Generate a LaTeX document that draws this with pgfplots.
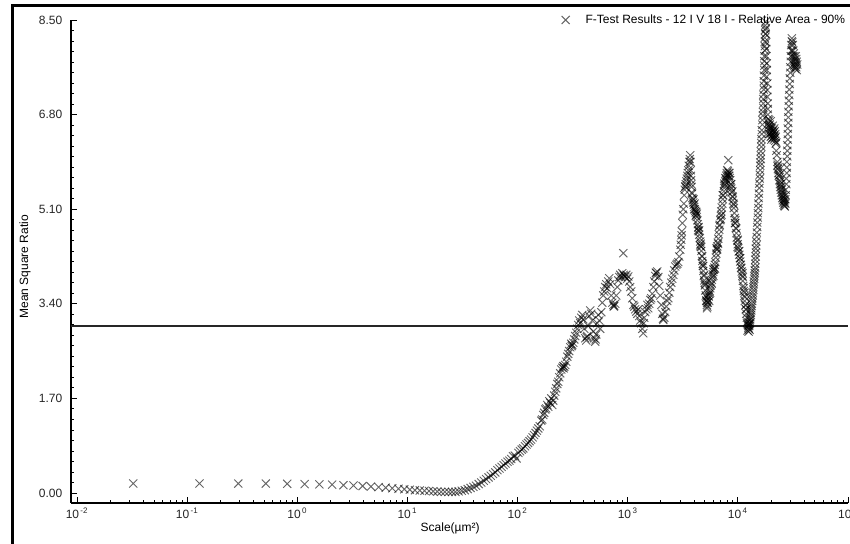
\documentclass[border=0pt]{standalone}
\usepackage{pgfplots}
\pgfplotsset{compat=1.18}
\usepackage{pgfplotstable}
\usepackage{fontspec}
\setmainfont{Liberation Sans}

% F-test mean square ratio against scale (area, square micrometres)
\pgfplotstableread[row sep=\\]{
x y \\
0.0324 0.17 \\ 0.1296 0.17 \\ 0.2916 0.17 \\ 0.5184 0.17 \\ 0.81 0.165 \\
1.166 0.16 \\ 1.588 0.155 \\ 2.074 0.15 \\ 2.624 0.14 \\ 3.24 0.135 \\
3.92 0.125 \\ 4.666 0.115 \\ 5.476 0.105 \\ 6.35 0.095 \\ 7.29 0.085 \\
8.294 0.075 \\ 9.364 0.068 \\ 10.50 0.06 \\ 11.70 0.05 \\ 12.96 0.045 \\
14.29 0.04 \\ 15.68 0.035 \\ 17.14 0.03 \\ 18.66 0.025 \\ 20.25 0.02 \\
21.90 0.02 \\ 23.62 0.02 \\ 25.40 0.02 \\ 27.25 0.02 \\ 29.16 0.03 \\
31.14 0.04 \\ 33.18 0.05 \\ 35.28 0.07 \\ 37.45 0.09 \\ 39.69 0.11 \\
41.99 0.13 \\ 44.36 0.16 \\ 46.79 0.19 \\ 49.28 0.22 \\ 51.84 0.25 \\
54.46 0.28 \\ 57.15 0.31 \\ 59.91 0.34 \\ 62.73 0.37 \\ 65.61 0.41 \\
68.56 0.44 \\ 71.57 0.47 \\ 74.65 0.50 \\ 77.79 0.53 \\ 81.00 0.56 \\
84.27 0.58 \\ 87.61 0.61 \\ 91.01 0.66 \\ 94.48 0.67 \\ 98.01 0.62 \\
101.6 0.72 \\ 105.3 0.75 \\ 109.0 0.78 \\ 112.8 0.80 \\ 116.6 0.84 \\
120.6 0.87 \\ 124.5 0.90 \\ 128.6 0.93 \\ 132.7 0.96 \\ 136.9 1.00 \\
141.1 1.04 \\ 145.4 1.08 \\ 149.8 1.12 \\ 154.3 1.16 \\ 158.8 1.20 \\
164.0 1.30 \\ 167.5 1.32 \\ 171.1 1.40 \\ 174.6 1.44 \\ 178.1 1.50 \\
182.0 1.52 \\ 186.0 1.58 \\ 189.9 1.55 \\ 193.9 1.65 \\ 197.8 1.62 \\
202.2 1.70 \\ 206.5 1.58 \\ 210.9 1.66 \\ 215.2 1.75 \\ 219.6 1.82 \\
224.4 1.88 \\ 229.3 1.96 \\ 234.1 2.00 \\ 239.0 2.08 \\ 243.8 2.15 \\
249.2 2.22 \\ 254.5 2.25 \\ 259.9 2.28 \\ 262.0 2.24 \\ 265.2 2.27 \\
270.6 2.30 \\ 276.6 2.36 \\ 282.5 2.45 \\ 288.5 2.50 \\ 294.5 2.55 \\
300.5 2.62 \\ 307.1 2.68 \\ 310.0 2.64 \\ 313.7 2.66 \\ 320.4 2.70 \\
327.0 2.76 \\ 333.6 2.82 \\ 341.0 2.88 \\ 348.3 2.95 \\ 355.7 3.02 \\
363.0 3.10 \\ 370.4 3.05 \\ 378.6 3.15 \\ 386.7 3.20 \\ 394.9 3.12 \\
403.0 2.95 \\ 411.2 2.78 \\ 420.3 2.74 \\ 425.0 2.80 \\ 429.4 2.82 \\
438.4 3.00 \\ 447.5 3.18 \\ 456.6 3.28 \\ 466.7 3.22 \\ 476.7 3.10 \\
486.8 2.90 \\ 496.8 2.78 \\ 506.9 2.72 \\ 512.0 2.76 \\ 518.1 2.85 \\
529.3 3.05 \\ 540.5 3.20 \\ 551.7 3.10 \\ 562.9 2.95 \\ 575.3 3.25 \\
587.7 3.42 \\ 600.1 3.55 \\ 612.5 3.62 \\ 624.9 3.70 \\ 638.7 3.75 \\
652.5 3.68 \\ 666.2 3.80 \\ 680.0 3.86 \\ 693.8 3.75 \\ 709.1 3.55 \\
724.4 3.42 \\ 739.7 3.38 \\ 747.0 3.35 \\ 755.0 3.36 \\ 770.3 3.40 \\
787.3 3.55 \\ 804.2 3.70 \\ 821.2 3.82 \\ 838.2 3.88 \\ 855.2 3.92 \\
874.1 3.88 \\ 892.9 3.95 \\ 911.8 4.31 \\ 920.0 3.92 \\ 930.6 3.90 \\
949.5 3.88 \\ 970.4 3.92 \\ 991.3 3.85 \\ 1012 3.89 \\ 1033 3.80 \\
1054 3.70 \\ 1077 3.62 \\ 1100 3.50 \\ 1124 3.38 \\ 1147 3.35 \\
1170 3.30 \\ 1196 3.26 \\ 1222 3.22 \\ 1247 3.30 \\ 1273 3.18 \\
1299 3.10 \\ 1328 3.05 \\ 1357 2.95 \\ 1385 2.87 \\ 1400 3.05 \\
1414 3.15 \\ 1443 3.25 \\ 1475 3.30 \\ 1507 3.38 \\ 1538 3.32 \\
1570 3.40 \\ 1602 3.47 \\ 1637 3.50 \\ 1672 3.58 \\ 1708 3.70 \\
1743 3.80 \\ 1778 3.90 \\ 1800 3.96 \\ 1817 3.95 \\ 1856 3.98 \\
1896 3.88 \\ 1935 3.72 \\ 1974 3.55 \\ 2018 3.38 \\ 2061 3.22 \\
2090 3.13 \\ 2105 3.11 \\ 2148 3.15 \\ 2192 3.25 \\ 2240 3.35 \\
2289 3.45 \\ 2337 3.50 \\ 2385 3.60 \\ 2433 3.70 \\ 2487 3.78 \\
2540 3.85 \\ 2594 3.92 \\ 2647 4.00 \\ 2701 4.07 \\ 2761 4.10 \\
2821 4.12 \\ 2880 4.15 \\ 2940 4.25 \\ 3000 4.37 \\ 3033 4.46 \\
3066 4.55 \\ 3082 4.63 \\ 3099 4.70 \\ 3132 4.85 \\ 3165 5.00 \\
3198 5.10 \\ 3231 5.20 \\ 3264 5.35 \\ 3297 5.45 \\ 3330 5.51 \\
3345 5.50 \\ 3367 5.55 \\ 3404 5.60 \\ 3440 5.65 \\ 3477 5.70 \\
3514 5.75 \\ 3550 5.80 \\ 3587 5.88 \\ 3624 5.95 \\ 3660 6.00 \\
3697 6.07 \\
3713 5.95 \\ 3738 5.80 \\ 3750 5.70 \\ 3762 5.62 \\ 3778 5.55 \\
3800 5.50 \\ 3819 5.40 \\ 3850 5.38 \\ 3860 5.30 \\ 3901 5.26 \\
3941 5.22 \\ 3950 5.28 \\ 3982 5.18 \\ 4000 5.10 \\ 4023 5.14 \\
4050 5.20 \\ 4063 5.10 \\ 4104 5.07 \\ 4149 5.04 \\ 4150 4.98 \\
4194 5.00 \\ 4200 5.05 \\ 4240 4.96 \\ 4250 5.02 \\ 4285 4.90 \\
4330 4.83 \\ 4350 4.72 \\ 4375 4.77 \\ 4400 4.78 \\ 4420 4.70 \\
4450 4.72 \\ 4466 4.64 \\ 4511 4.58 \\ 4550 4.45 \\ 4556 4.52 \\
4600 4.48 \\ 4606 4.43 \\ 4650 4.42 \\ 4656 4.35 \\ 4707 4.26 \\
4750 4.25 \\ 4757 4.17 \\ 4800 4.12 \\ 4807 4.08 \\ 4850 4.08 \\
4857 3.99 \\ 4907 3.90 \\ 4950 3.92 \\ 4958 3.82 \\ 5000 3.78 \\
5008 3.73 \\ 5050 3.75 \\ 5058 3.64 \\ 5114 3.55 \\ 5150 3.52 \\
5170 3.46 \\ 5200 3.45 \\ 5226 3.38 \\ 5250 3.32 \\ 5260 3.42 \\
5282 3.35 \\
5337 3.42 \\ 5393 3.48 \\ 5400 3.55 \\ 5449 3.53 \\ 5500 3.45 \\
5505 3.58 \\ 5560 3.63 \\ 5600 3.60 \\ 5616 3.68 \\ 5678 3.73 \\
5740 3.78 \\ 5800 3.76 \\ 5802 3.83 \\ 5864 3.88 \\ 5926 3.93 \\
5987 3.97 \\ 6000 3.90 \\ 6000 4.02 \\ 6049 4.01 \\ 6111 4.05 \\
6173 4.10 \\ 6200 4.03 \\ 6235 4.15 \\ 6304 4.23 \\ 6372 4.30 \\
6400 4.40 \\ 6441 4.37 \\ 6500 4.38 \\ 6510 4.43 \\ 6579 4.50 \\
6600 4.48 \\ 6647 4.57 \\ 6716 4.65 \\ 6785 4.73 \\ 6800 4.80 \\
6853 4.82 \\ 6922 4.90 \\ 6998 4.98 \\ 7000 4.92 \\ 7074 5.06 \\
7100 5.00 \\ 7151 5.13 \\ 7227 5.20 \\ 7300 5.35 \\ 7303 5.28 \\
7380 5.35 \\ 7456 5.42 \\ 7500 5.52 \\ 7532 5.48 \\ 7550 5.56 \\
7609 5.54 \\ 7685 5.60 \\ 7700 5.66 \\ 7770 5.65 \\ 7800 5.62 \\
7854 5.70 \\ 7939 5.75 \\ 8000 5.72 \\ 8024 5.80 \\ 8109 5.78 \\
8193 5.98 \\ 8244 5.70 \\
8278 5.75 \\ 8362 5.70 \\ 8400 5.75 \\ 8447 5.66 \\ 8532 5.62 \\
8600 5.50 \\ 8626 5.55 \\ 8700 5.55 \\ 8720 5.47 \\ 8814 5.40 \\
8900 5.42 \\ 8908 5.33 \\ 9000 5.32 \\ 9002 5.26 \\ 9096 5.20 \\
9190 5.12 \\ 9200 5.18 \\ 9284 5.03 \\ 9378 4.94 \\ 9400 4.85 \\
9472 4.85 \\ 9500 4.90 \\ 9576 4.76 \\ 9680 4.67 \\ 9700 4.75 \\
9785 4.59 \\ 9889 4.53 \\ 9950 4.42 \\ 9993 4.47 \\ 10000 4.55 \\
10097 4.40 \\ 10202 4.34 \\ 10300 4.35 \\ 10306 4.28 \\ 10411 4.22 \\
10500 4.22 \\ 10515 4.16 \\ 10631 4.10 \\ 10700 4.05 \\ 10747 4.04 \\
10863 3.98 \\ 10979 3.90 \\ 11000 3.95 \\ 11095 3.81 \\ 11100 3.88 \\
11211 3.72 \\ 11300 3.68 \\ 11327 3.63 \\ 11443 3.54 \\ 11500 3.60 \\
11559 3.45 \\ 11600 3.52 \\ 11675 3.37 \\ 11800 3.38 \\ 11804 3.30 \\
11900 3.30 \\ 11932 3.22 \\ 12061 3.15 \\ 12100 3.05 \\ 12190 3.08 \\
12250 2.92 \\ 12318 3.02 \\ 12400 3.00 \\ 12447 2.97 \\ 12500 2.90 \\
12575 2.95 \\ 12650 3.02 \\ 12800 2.93 \\ 12900 3.05 \\
12704 3.00 \\ 12704 3.04 \\ 12833 3.06 \\ 12833 3.10 \\ 12961 3.12 \\
12961 3.16 \\ 13104 3.20 \\ 13104 3.24 \\ 13247 3.28 \\ 13247 3.32 \\
13390 3.36 \\ 13390 3.40 \\ 13533 3.45 \\ 13533 3.50 \\ 13676 3.55 \\
13676 3.60 \\ 13818 3.65 \\ 13818 3.70 \\ 13961 3.75 \\ 13961 3.80 \\
14104 3.85 \\ 14104 3.90 \\ 14247 3.95 \\ 14247 4.00 \\ 14390 4.05 \\
14390 4.12 \\ 14390 4.19 \\ 14549 4.25 \\ 14549 4.32 \\ 14549 4.39 \\
14707 4.45 \\ 14707 4.52 \\ 14866 4.60 \\ 14866 4.68 \\ 15024 4.78 \\
15024 4.86 \\ 15183 4.95 \\ 15183 5.03 \\ 15341 5.12 \\ 15341 5.20 \\
15499 5.30 \\ 15499 5.38 \\ 15658 5.48 \\ 15658 5.56 \\ 15816 5.65 \\
15816 5.72 \\ 15975 5.80 \\ 15975 5.88 \\ 15975 5.94 \\ 16151 6.00 \\
16151 6.07 \\ 16151 6.14 \\ 16327 6.22 \\ 16327 6.29 \\ 16327 6.36 \\
16503 6.45 \\ 16503 6.52 \\ 16679 6.62 \\ 16679 6.70 \\ 16856 6.78 \\
16856 6.85 \\ 17032 6.92 \\ 17032 7.00 \\ 17032 7.08 \\ 17032 7.16 \\
17208 7.25 \\ 17208 7.32 \\ 17208 7.40 \\ 17208 7.50 \\ 17384 7.60 \\
17384 7.68 \\ 17384 7.76 \\ 17384 7.85 \\ 17560 7.95 \\ 17560 8.03 \\
17560 8.11 \\ 17560 8.18 \\ 17736 8.25 \\ 17736 8.32 \\ 17736 8.40 \\
17834 8.47 \\
17931 8.35 \\ 17931 8.25 \\ 18127 8.10 \\ 18127 7.98 \\ 18127 7.85 \\
18322 7.72 \\ 18322 7.60 \\ 18322 7.48 \\ 18517 7.36 \\ 18517 7.24 \\
18517 7.12 \\ 18713 7.00 \\ 18713 6.90 \\ 18713 6.80 \\ 18908 6.72 \\
18908 6.65 \\ 19104 6.60 \\ 19104 6.45 \\ 19299 6.55 \\ 19299 6.70 \\
19494 6.50 \\ 19494 6.62 \\ 19690 6.45 \\ 19690 6.58 \\ 19907 6.40 \\
19907 6.55 \\ 19907 6.68 \\ 20124 6.48 \\ 20124 6.35 \\ 20341 6.55 \\
20341 6.42 \\ 20558 6.50 \\ 20558 6.38 \\ 20775 6.45 \\ 20775 6.60 \\
20992 6.40 \\ 20992 6.52 \\ 21209 6.48 \\ 21209 6.35 \\ 21426 6.42 \\
21426 6.55 \\ 21643 6.38 \\ 21643 6.50 \\ 21860 6.45 \\ 21860 6.33 \\
22101 6.40 \\ 22101 6.28 \\ 22342 6.30 \\ 22342 6.15 \\ 22583 6.07 \\
22824 5.95 \\ 22824 5.88 \\ 23065 5.90 \\ 23065 5.82 \\ 23305 5.85 \\
23305 5.75 \\ 23546 5.80 \\ 23546 5.70 \\ 23787 5.72 \\ 23787 5.62 \\
24028 5.68 \\ 24028 5.55 \\ 24269 5.60 \\ 24269 5.50 \\ 24537 5.55 \\
24537 5.45 \\ 24804 5.50 \\ 24804 5.40 \\ 25072 5.45 \\ 25072 5.35 \\
25339 5.40 \\ 25339 5.30 \\ 25607 5.35 \\ 25607 5.26 \\ 25874 5.32 \\
25874 5.22 \\ 26142 5.28 \\ 26142 5.18 \\ 26409 5.25 \\ 26409 5.16 \\
26677 5.22 \\ 26677 5.15 \\ 26944 5.20 \\ 26944 5.28 \\ 27241 5.35 \\
27241 5.45 \\ 27538 5.55 \\ 27538 5.65 \\ 27835 5.75 \\ 27835 5.85 \\
27835 5.95 \\ 28132 6.05 \\ 28132 6.15 \\ 28132 6.25 \\ 28429 6.35 \\
28429 6.45 \\ 28429 6.55 \\ 28726 6.65 \\ 28726 6.75 \\ 28726 6.85 \\
29023 6.95 \\ 29023 7.05 \\ 29320 7.15 \\ 29320 7.25 \\ 29617 7.35 \\
29617 7.45 \\ 29914 7.55 \\ 29914 7.65 \\ 30244 7.75 \\ 30244 7.85 \\
30573 7.95 \\ 30573 8.05 \\ 30903 8.12 \\ 30903 8.17 \\ 31232 8.10 \\
31232 7.95 \\ 31562 8.05 \\ 31562 7.85 \\ 31891 7.95 \\ 31891 7.75 \\
32221 7.90 \\ 32221 7.70 \\ 32551 7.85 \\ 32551 7.68 \\ 32880 7.80 \\
32880 7.65 \\ 33210 7.75 \\ 33210 7.62 \\ 33576 7.85 \\ 33576 7.70 \\
33942 7.80 \\ 33942 7.65 \\ 34308 7.75 \\ 34308 7.60 \\ 34674 7.70 \\
}\fratio

\begin{document}
\begin{tikzpicture}[x=0.75pt,y=0.75pt,font=\fontsize{9}{11}\selectfont]
\path[use as bounding box] (0,0) rectangle (850,543);
\clip (0,0) rectangle (850,543);
\fill[white] (0,0) rectangle (850,543);
% window frame
\draw[line width=2.25pt] (12.5,-10) -- (12.5,537.5) -- (880,537.5);
\begin{axis}[
  at={(53.25pt,30pt)}, anchor=south west,
  scale only axis, width=582.75pt, height=362.25pt,
  xmode=log, xmin=0.00882, xmax=1e5,
  ymin=-0.18, ymax=8.5,
  axis lines=left,
  axis line style={-, line width=0.9pt, black},
  tick align=inside,
  major tick length=4.5pt, minor tick length=2.6pt,
  tick style={black, line width=0.6pt},
  xtick={1e-2,1e-1,1,10,100,1000,1e4,1e5},
  xticklabels={10\textsuperscript{\,-2},10\textsuperscript{\,-1},10\textsuperscript{\,0},10\textsuperscript{\,1},10\textsuperscript{\,2},10\textsuperscript{\,3},10\textsuperscript{\,4},10\textsuperscript{\,5}},
  minor xtick={2e-2,3e-2,4e-2,5e-2,6e-2,7e-2,8e-2,9e-2,
               2e-1,3e-1,4e-1,5e-1,6e-1,7e-1,8e-1,9e-1,
               2,3,4,5,6,7,8,9,20,30,40,50,60,70,80,90,
               200,300,400,500,600,700,800,900,
               2000,3000,4000,5000,6000,7000,8000,9000,
               2e4,3e4,4e4,5e4,6e4,7e4,8e4,9e4},
  ytick={0,1.7,3.4,5.1,6.8,8.5},
  yticklabels={0.00,1.70,3.40,5.10,6.80,8.50},
  minor y tick num=8,
  tick label style={font=\fontsize{9}{11}\selectfont, text=black!85},
  yticklabel style={xshift=-3pt},
  xlabel={Scale(µm²)},
  ylabel={Mean Square Ratio},
  label style={font=\fontsize{9}{11}\selectfont},
  xlabel style={at={(axis description cs:0.488,-0.0518)}, anchor=center},
  ylabel style={at={(axis description cs:-0.0592,0.489)}, anchor=center},
  legend style={at={(axis description cs:1.0,1.0)}, anchor=east,
    draw=none, fill=none, inner sep=0pt,
    font=\fontsize{9}{11}\selectfont},
  legend image code/.code={%
    \path[draw=none, fill=none] (-4pt,-2pt) rectangle (13pt,2pt);
    \draw[#1] plot coordinates {(0pt,0pt)};},
  clip=false,
]
\addplot[only marks, mark=x, mark size=4.3pt,
  mark options={draw=black, draw opacity=0.6, line width=0.7pt}]
  table[x=x, y=y] {\fratio};
\addlegendentry{F-Test Results - 12 I V 18 I - Relative Area - 90\%}
\addplot[black!85, line width=1.4pt, forget plot]
  coordinates {(0.00882,3.0) (1e5,3.0)};
\end{axis}
\end{tikzpicture}
\end{document}
